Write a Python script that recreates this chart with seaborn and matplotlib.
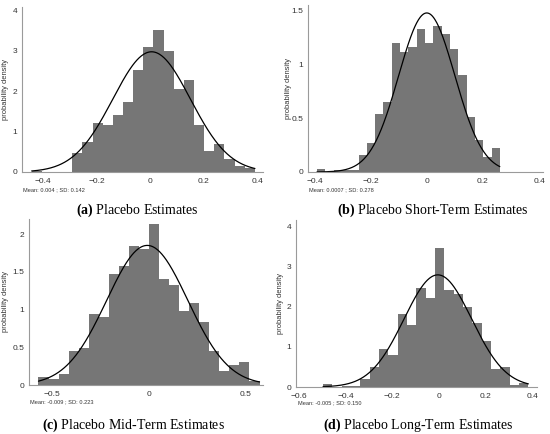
import numpy as np
import pandas as pd
import matplotlib
matplotlib.use("Agg")
import matplotlib.pyplot as plt
from matplotlib.ticker import FuncFormatter
import seaborn as sns

# ------------------ data ------------------
# histogram: first bin edge, bin width, bar heights (density)
a_start, a_width = -0.442, 0.0379
a_heights = [0.03, 0, 0, 0, 0.46, 0.74, 1.21, 1.16, 1.42, 1.74, 2.54,
             3.11, 3.53, 3.01, 2.05, 2.27, 1.16, 0.52, 0.69, 0.31, 0.16, 0.11]

b_start, b_width = -0.391, 0.0296
b_heights = [0.025, 0, 0.015, 0.015, 0.015, 0.16, 0.27, 0.54, 0.65, 1.20, 1.12,
             1.16, 1.33, 1.20, 1.36, 1.28, 1.14, 0.90, 0.51, 0.30, 0.14, 0.22]

c_start, c_width = -0.572, 0.052
c_heights = [0.11, 0.075, 0.15, 0.45, 0.49, 0.94, 0.90, 1.47, 1.58, 1.84, 1.80,
             2.14, 1.40, 1.32, 0.98, 1.09, 0.83, 0.45, 0.19, 0.27, 0.30, 0.05]

d_start, d_width = -0.497, 0.040
d_heights = [0.08, 0, 0.03, 0.03, 0.19, 0.49, 0.94, 0.80, 1.83, 1.54, 2.48,
             2.23, 3.48, 2.43, 2.33, 1.99, 1.61, 1.14, 0.45, 0.50, 0.06, 0.10]

# overlaid normal curve: centre, spread, peak height
curve_mean = [0.006, 0.0, -0.009, -0.005]
curve_sd = [0.145, 0.100, 0.210, 0.145]
curve_peak = [2.98, 1.48, 1.85, 2.80]

notes = ["Mean: 0.004 ; SD: 0.142", "Mean: 0.0007 ; SD: 0.278",
         "Mean: -0.009 ; SD: 0.223", "Mean: -0.005 ; SD: 0.150"]
letters = ["a", "b", "c", "d"]
captions = ["Placebo Estimates", "Placebo Short-Term Estimates",
            "Placebo Mid-Term Estimates", "Placebo Long-Term Estimates"]

x_ticks = [[-0.4, -0.2, 0, 0.2, 0.4], [-0.4, -0.2, 0, 0.2, 0.4],
           [-0.5, 0, 0.5], [-0.6, -0.4, -0.2, 0, 0.2, 0.4]]
y_ticks = [[0, 1, 2, 3, 4], [0, 0.5, 1, 1.5], [0, 0.5, 1, 1.5, 2], [0, 1, 2, 3, 4]]

# ------------------ layout (pixels of the 550x434 image) ------------------
W, H = 550, 434
boxes = [(22, 7, 263, 172), (308, 5, 543, 172), (29, 219, 263, 385), (296, 220, 537, 387)]
xlims = [(-0.478, 0.422), (-0.423, 0.414), (-0.621, 0.59), (-0.613, 0.42)]
ylims = [(0, 4.09), (0, 1.554), (0, 2.2), (0, 4.17)]
ylab_x = [9.5, 292, 9.5, 284]   # right edge of the rotated label
note_xy = [(23, 190), (309, 190), (30, 402), (298, 403)]
cap_xy = [(137, 210), (433, 210), (133, 425), (418, 425)]

sns.set_style("white")
plt.rcParams["font.family"] = ["Liberation Sans", "DejaVu Sans"]
plt.rcParams["mathtext.fontset"] = "custom"
plt.rcParams["mathtext.bf"] = "Liberation Serif:bold"
plt.rcParams["mathtext.rm"] = "Liberation Serif"

fig = plt.figure(figsize=(W / 100, H / 100), dpi=100)

fmt = FuncFormatter(lambda v, p: f"{v:g}".replace("-", "\u2212"))

panels = [(a_start, a_width, a_heights), (b_start, b_width, b_heights),
          (c_start, c_width, c_heights), (d_start, d_width, d_heights)]

for i, (start, width, heights) in enumerate(panels):
    l, t, r, b = boxes[i]
    ax = fig.add_axes([l / W, 1 - b / H, (r - l) / W, (b - t) / H])

    n = len(heights)
    edges = [start + width * k for k in range(n + 1)]
    centers = [start + width * (k + 0.5) for k in range(n)]
    df = pd.DataFrame({"x": centers, "h": heights})
    sns.histplot(data=df, x="x", weights="h", bins=edges, ax=ax,
                 color="#767676", edgecolor="none", linewidth=0, alpha=1)

    xs = np.linspace(edges[0], edges[-1], 300)
    ys = curve_peak[i] * np.exp(-(xs - curve_mean[i]) ** 2 / (2 * curve_sd[i] ** 2))
    sns.lineplot(x=xs, y=ys, ax=ax, color="black", linewidth=0.9)

    ax.set_xlim(*xlims[i])
    ax.set_ylim(*ylims[i])
    ax.set_xticks(x_ticks[i])
    ax.set_yticks(y_ticks[i])
    ax.xaxis.set_major_formatter(fmt)
    ax.yaxis.set_major_formatter(fmt)
    ax.tick_params(axis="both", which="both", length=2, width=0.6, color="#8c8c8c",
                   labelsize=6, labelcolor="#333333", pad=1.5, direction="out")
    ax.tick_params(axis="x", pad=2.5)
    for s in ["top", "right"]:
        ax.spines[s].set_visible(False)
    for s in ["left", "bottom"]:
        ax.spines[s].set_color("#9a9a9a")
        ax.spines[s].set_linewidth(0.8)
    ax.set_xlabel("")
    ax.set_ylabel("probability density", fontsize=5.4, color="#333333")
    ax.yaxis.set_label_coords((ylab_x[i] - l) / (r - l), 0.5)

    fig.text(note_xy[i][0] / W, 1 - note_xy[i][1] / H, notes[i], fontsize=4.1,
             color="#333333", ha="left", va="center")
    fig.text(cap_xy[i][0] / W, 1 - cap_xy[i][1] / H,
             r"$\mathbf{(" + letters[i] + r")}$ " + captions[i],
             fontsize=10, family=["Liberation Serif", "DejaVu Serif"],
             ha="center", va="center", color="black")

fig.savefig("out.png", dpi=100)
